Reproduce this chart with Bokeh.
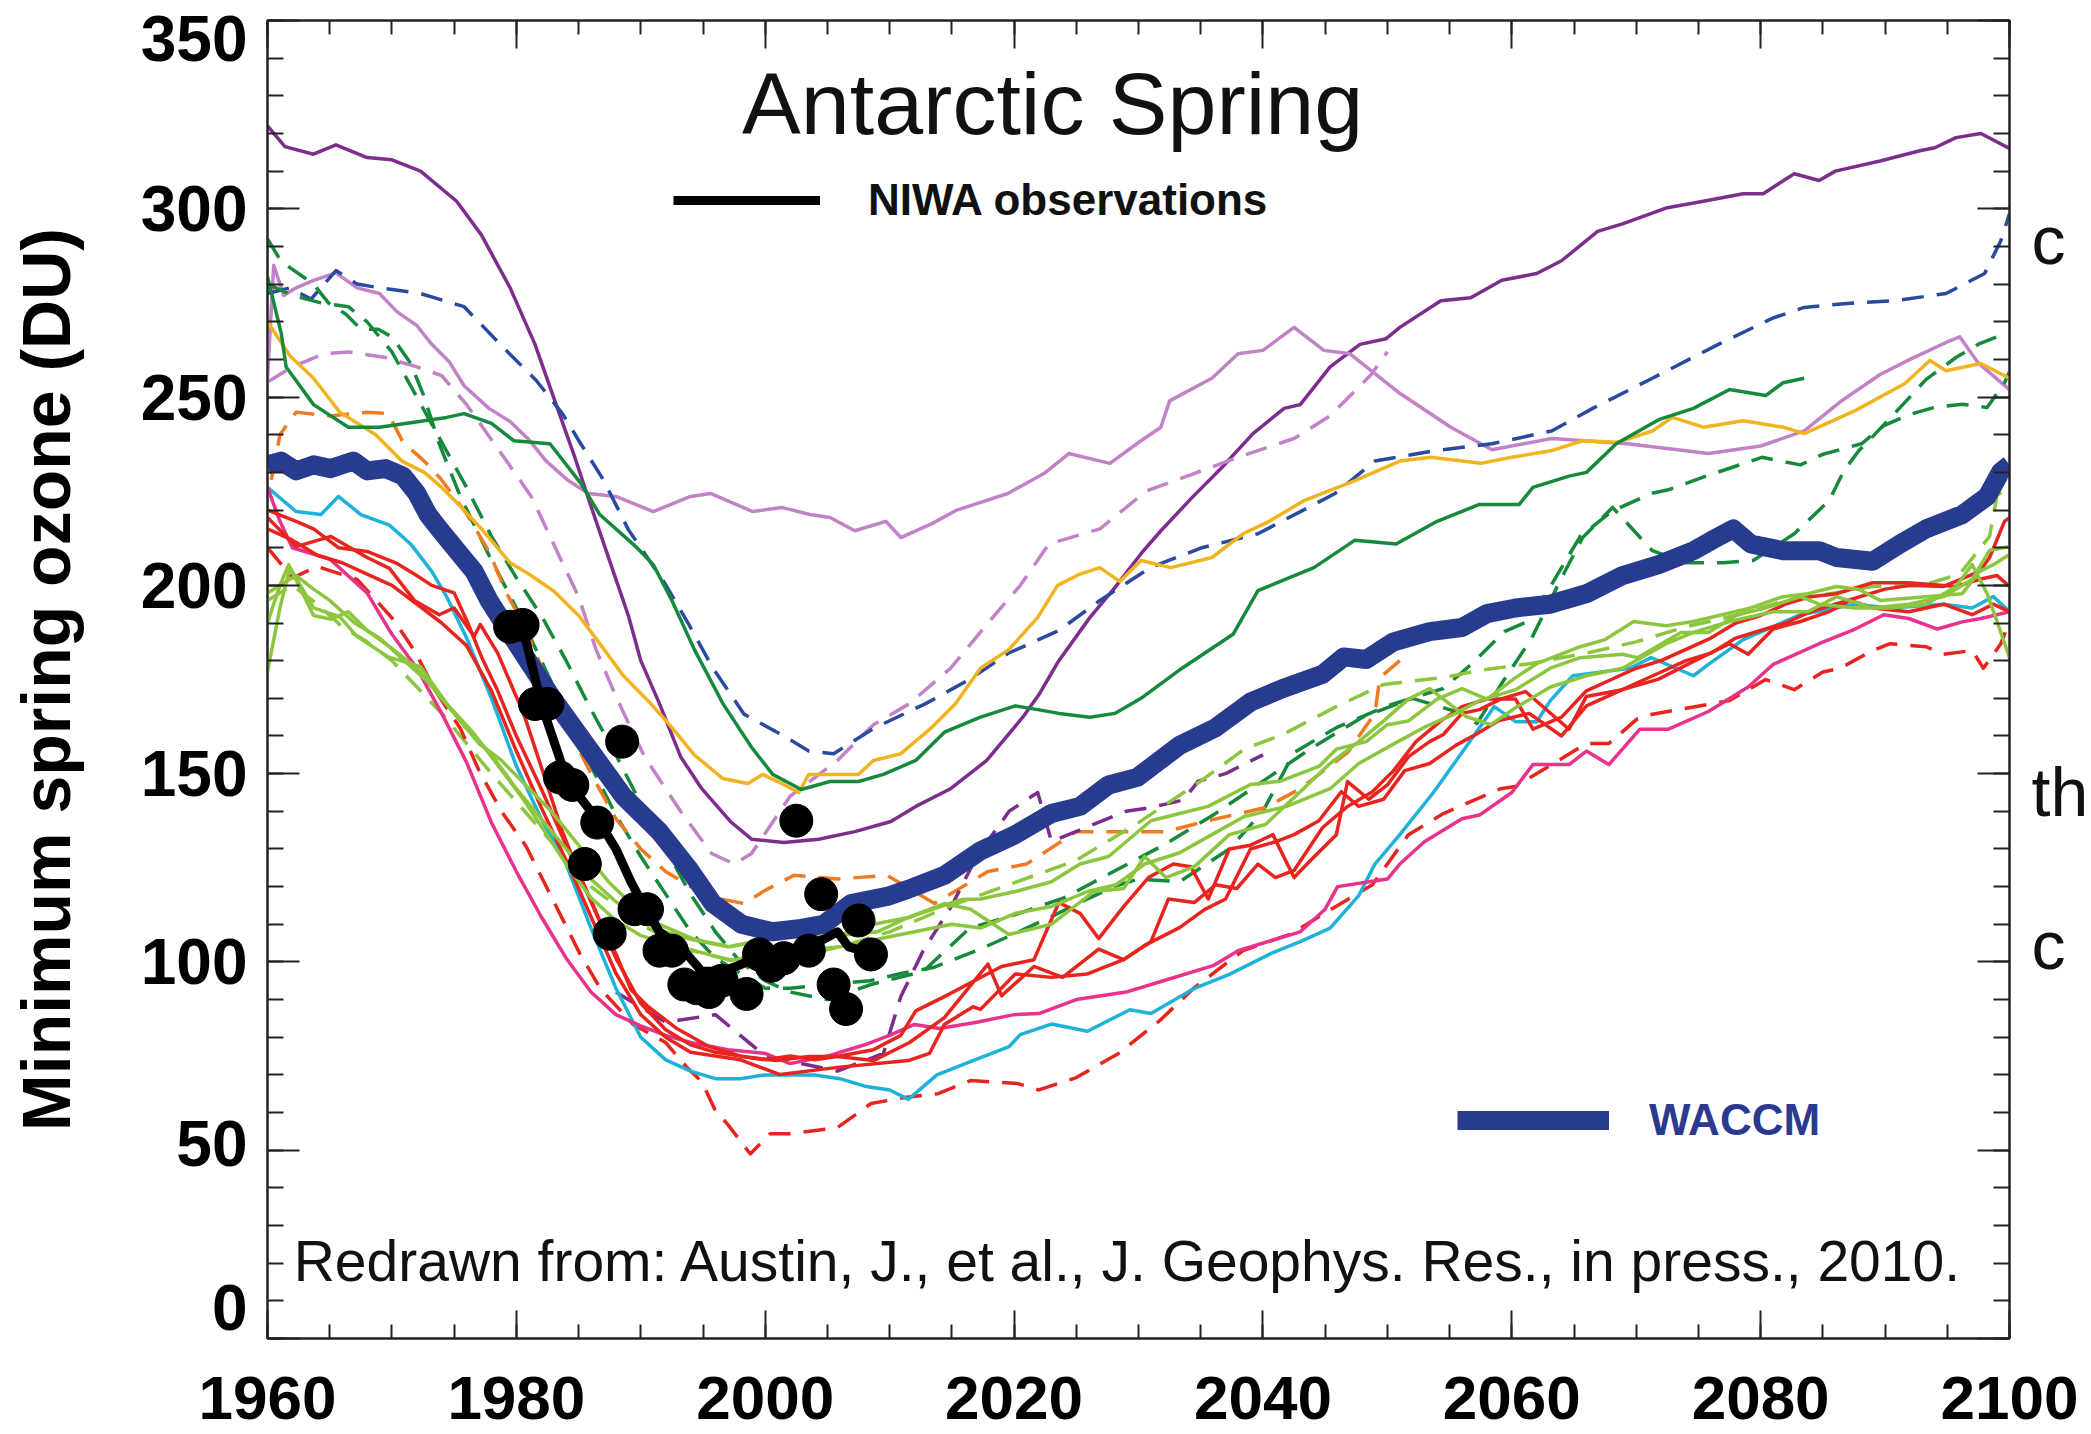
from bokeh.plotting import figure
from bokeh.models import (Range1d, LinearAxis, SingleIntervalTicker, FixedTicker, Label, Legend,
                          LegendItem, CustomJSTickFormatter)
from bokeh.embed import file_html
from bokeh.resources import INLINE

# ---------------- data (year, minimum spring ozone DU) ----------------
waccm = [(1960,232),(1961.1,233),(1962.3,230.4),(1963.7,232),(1965.1,231),(1966.9,233),(1968,230.4),
         (1969.5,231),(1970.9,229),(1972,224.4),(1972.9,218.8),(1973.8,215),(1975.2,209.3),(1976.6,203.7),
         (1977.8,196),(1979.4,187.7),(1982.8,170.5),(1985.7,157.2),(1988.6,144),(1991.5,134.6),(1993.8,125),
         (1995.8,115.5),(1998.1,110),(2000.6,108),(2002.9,108.9),(2004.7,110),(2006.9,115.5),(2009.8,117.4),
         (2011.5,119.3),(2014.4,123),(2017.3,129.5),(2020.1,133.8),(2023,139.4),(2025.3,141.3),(2027.6,147),
         (2029.9,149),(2033.3,157.5),(2036.2,162.2),(2039,169),(2041.6,172.6),(2044.8,176.4),(2046.5,181),
         (2048.3,180.3),(2050.5,185),(2053.4,187.7),(2056,188.8),(2058,192.5),(2060.3,194),(2063.1,195),
         (2066,197.8),(2068.9,202.6),(2071.8,205.5),(2074.6,209.2),(2076.1,212),(2077.8,215),(2079.2,211),
         (2081.8,209.2),(2084.7,209.2),(2086.1,207.4),(2089,206.4),(2091.2,211),(2093.3,215),(2096.2,218.8),
         (2098.2,223.6),(2099.3,230.2),(2100,232)]

obs_points = [(1979.5,189),(1980.5,189.5),(1981.5,168.5),(1982.5,168.5),(1983.5,149),(1984.5,147),
              (1985.5,126),(1986.5,137),(1987.5,107.5),(1988.5,158.5),(1989.5,114),(1990.5,114),
              (1991.5,103),(1992.5,103),(1993.5,94),(1994.5,93),(1995.5,92),(1996.5,95),(1998.5,91.5),
              (1999.5,102),(2000.5,99),(2001.5,101),(2002.5,137.5),(2003.5,103),(2004.5,118),(2005.5,94),
              (2006.5,87.5),(2007.5,111),(2008.5,102)]

obs_curve = [(1979.5,189),(1980.5,189),(1982,168.6),(1984.1,148),(1986.6,137.5),(1988,130),(1989.2,121.3),
             (1990.3,114.5),(1991.5,108),(1993.2,104),(1994.9,97.5),(1996.6,97.5),(1998.1,99.4),(1999.8,102.2),
             (2002.3,103.3),(2004.7,106),(2005.8,108),(2006.7,104),(2008.7,102.2)]

purple = [(1960,322),(1961.4,316.5),(1963.7,314.5),(1965.5,317),(1968,313.6),(1970,313),(1972.3,310),
          (1975.2,302),(1977.2,293),(1979.5,279),(1981.5,264),(1983.2,248),(1984.7,234),(1986.1,220),
          (1987.6,205.5),(1989,192),(1990,180),(1991.5,168.6),(1993.2,154.5),(1994.9,146),(1997.2,137.3),
          (1998.9,132.6),(2001.5,131.7),(2004.3,132.6),(2007.2,134.6),(2010.1,137.3),(2012.1,141.3),
          (2014.9,146),(2017.8,153.5),(2020.7,165),(2022,171),(2023.6,180),(2026.1,191.5),(2028.1,199.4),
          (2030.2,208.4),(2031.8,214.5),(2034.3,223.3),(2036.7,231.3),(2039.2,240.3),(2041.7,247),(2043,248),
          (2045.4,258),(2047.8,264),(2049.9,265.5),(2051,268.5),(2054.3,275.6),(2056.7,276.4),(2059.2,281),
          (2062,282.8),(2064,286.2),(2066.9,294),(2068.9,296),(2072.5,300.3),(2075.4,302),(2078.6,304),
          (2080.2,304),(2082.7,309.3),(2084.7,307.5),(2086,310),(2089.6,312.7),(2092.8,315.4),(2094,316.2),
          (2095.7,318.9),(2097.7,320),(2100,316)]

lavender = [(1960,255),(1960.5,285),(1961.3,277),(1962.3,279),(1963.7,281),(1965.5,283),(1967.2,279),
            (1969,277.5),(1970.4,272.7),(1972,269),(1973.2,264),(1974.6,259.4),(1975.8,253),(1977.8,247),
            (1979.5,243.5),(1981,238.7),(1982.4,233),(1984.1,228),(1985.8,224.4),(1988,223.6),(1991,219.6),
            (1994,223.6),(1995.6,224.4),(1999,219.6),(2001.3,220.7),(2003.6,218.8),(2005.2,218),(2007.2,214.5),
            (2009.7,217),(2010.9,212.7),(2013.4,216.4),(2015.4,220),(2019.5,224.4),(2022.4,229.7),(2024.4,235),
            (2027.7,232.4),(2030.2,238.4),(2031.8,242),(2032.5,249),(2035.9,255),(2038,261.5),(2040,262.4),
            (2042.5,268.5),(2044.9,262.4),(2047,261.5),(2051,251),(2055.1,242),(2058.4,236),(2063.2,239),
            (2069.3,237.6),(2075.8,235),(2080,237),(2083.5,241),(2086.5,249),(2089.6,256),(2092,260),
            (2094.9,264.5),(2096,266),(2097.5,259),(2100,252)]

lavender_dash = [(1960,254),(1962,258),(1964.5,261.5),(1966.5,262),(1969.5,260.5),(1972,258),(1974,255.7),
                 (1976,248),(1979,234),(1981.2,223.6),(1983.5,207.4),(1985,197),(1986.4,183),(1988,170.5),
                 (1990.3,154.5),(1993.2,140),(1995.7,128.8),(1997.5,126),(1998.9,128.8),(2002,144),
                 (2005.8,153.5),(2008.7,163),(2011.6,168.6),(2014.9,178),(2017.9,190),(2020.5,200),
                 (2022.8,211),(2026.9,215),(2030.6,225),(2034.3,229.5),(2038,234),(2042.5,239),(2045.4,245),
                 (2048.7,256),(2050,262)]

navy_dash = [(1960,277.5),(1961.8,279),(1963.5,276),(1965.5,283.6),(1967.2,280),(1969,279),(1972.3,277.5),
             (1975.8,274),(1979,263),(1981.6,254.4),(1983.7,245.6),(1985.1,238),(1987,228),(1989,214.8),
             (1991.9,200.7),(1993.8,190),(1995.8,178),(1998.3,165.8),(2001.5,160),(2003.5,156),(2005.5,155.3),
             (2008.7,162),(2012.9,168.6),(2016.4,175),(2019.5,181.9),(2023.6,188),(2026.9,196),(2031,204.8),
             (2035.1,210),(2039.6,213.7),(2045.8,224.4),(2049,233),(2053.9,235.8),(2058.4,237.6),(2063.2,241),
             (2066.5,247),(2071.3,255),(2076.6,264),(2081,271),(2083.5,273.8),(2086.7,274.8),(2090.8,275.6),
             (2094.9,277.5),(2098,282.8),(2099.3,291.5),(2100,298.7)]

green = [(1960,282),(1961.1,267),(1961.5,258),(1963.7,248),(1966.5,242),(1969,242),(1972.6,243.7),
         (1974.4,244.6),(1975.8,245.6),(1978,243),(1979.8,238.4),(1982.7,237.6),(1985.2,227),(1986.7,218.8),
         (1989.6,210.3),(1991,205.5),(1992.5,196),(1994.3,183),(1996.6,168.6),(1998.9,157),(2000.6,149.8),
         (2002.9,145.8),(2005.2,147.9),(2007.5,147.9),(2009.5,149.8),(2012.1,153.5),(2014.4,161),(2017.3,165),
         (2020.1,168),(2021.9,167),(2023.6,166),(2026.1,165),(2028.1,166),(2030.2,170),(2033.5,178),
         (2037.6,187),(2039.6,198.6),(2044.1,204.7),(2047.4,212),(2050.7,211),(2054,217),(2057.4,221.5),
         (2060.6,221.5),(2061.7,226),(2064.6,229),(2066,230),(2068.4,237.6),(2071.8,244),(2074.6,247),
         (2077.5,252),(2080.4,250.4),(2081.8,253.8),(2083.5,255)]

green_dash_a = [(1960,292),(1961.1,286),(1963.7,280),(1964.9,275),(1966.3,272),(1967.5,268),(1968.9,268),
                (1970,266),(1971.5,259),(1972.6,250),(1973.8,237.6),(1975.5,223.6),(1977.8,208),(1980,194),
                (1982,180),(1984,166),(1986,152),(1988,139),(1990,128),(1992,118),(1994,108),(1996,101),
                (1998,97),(2000,93),(2002,93),(2005,94),(2008.4,95),(2011,97),(2013.5,98.5),(2017,103),
                (2019.7,107),(2023,112),(2025.3,115.8),(2028,120),(2030,122),(2033.3,121.3),(2037.3,130),
                (2040,140),(2042.5,155.6),(2045.9,162.2),(2050,168),(2054.5,172.6),(2056.8,179.2),
                (2059.4,187.7),(2061.4,190.6),(2063.1,199.7),(2065.5,213),(2068,219.6),(2071.2,224.4),
                (2072.6,225.4),(2075.8,229.2),(2080.1,234),(2083.2,232),(2085,234.8),(2088.1,237.6),
                (2089.9,242.4),(2091.9,245.3),(2093.9,247.2),(2096.2,248.1),(2098.2,247.2),(2099.6,253.8),
                (2100,256.7)]

green_dash_b = [(1960,280),(1962,277),(1964.3,275),(1966.5,274),(1968,270),(1970,262),(1972,250),(1974,238),
                (1976,226),(1978,213),(1980,202),(1982,192),(1984,180),(1986,167),(1988,155),(1990,142),
                (1992,130),(1994,118),(1996,108),(1998,100),(2000,95),(2002,92),(2005,90),(2008.5,94),
                (2012.7,97.5),(2016.4,108.9),(2020.2,112.7),(2024,117),(2028,124),(2032,131),(2036,139),
                (2040,148),(2044,157),(2048,165),(2052,170),(2056,166),(2057.2,163.3),(2059.2,174),
                (2061.6,186),(2064,202),(2065.7,212.7),(2068.1,220.7),(2071.3,209.2),(2074,206),(2077,206),
                (2079.4,206.6),(2082.7,213.7),(2085.5,222.5),(2086.7,230.5),(2087.9,235.8),(2089,239.5),
                (2091.2,247.2),(2093.3,254.7),(2095.7,260.5),(2097.6,264.2),(2099,266),(2100,266)]

gold = [(1960,270),(1961.8,261),(1963.7,255),(1965.8,246),(1968.7,240),(1970.8,233),(1972.6,230),(1974,226),
        (1975.5,221),(1977.2,215),(1979.5,206),(1981,203),(1983,198.5),(1985,192),(1986.6,185),(1988.6,176),
        (1990.8,168.6),(1992.3,163),(1994.3,155),(1996.6,148.7),(1998.6,147.4),(1999.8,149.8),(2001,147.9),
        (2002.7,145),(2003.5,149.8),(2005.8,149.8),(2007.5,149.8),(2008.7,153.5),(2010.9,155.3),(2013.3,162),
        (2015.3,168.6),(2017.3,178),(2019.6,183),(2021.9,191.5),(2023.5,200),(2025.3,203),(2026.9,204.7),
        (2028.5,201),(2030.2,206.6),(2032.6,204.7),(2035.9,207.4),(2038.4,213.7),(2040.5,217),(2043.3,222.5),
        (2047.4,227.8),(2051,233),(2053.5,234),(2057.5,232.4),(2060,234),(2063.2,235.8),(2065.7,238.4),
        (2068.5,238),(2071.3,241),(2072.9,244.6),(2075.4,242),(2078.6,243.7),(2081.8,242),(2083.5,240.3),
        (2087.6,246.4),(2091.6,253.6),(2093.6,259.7),(2094.9,257),(2097.7,258.9),(2100,255)]

orange_dash = [(1960.3,228),(1961,240),(1962.3,246),(1965,245),(1968,246),(1969.7,245.6),(1970.9,238),
               (1972.6,233),(1974,228),(1976,219),(1977.8,209),(1979.2,198),(1980.5,190),(1982.2,177),
               (1984,163),(1986,150),(1988,138),(1990,130),(1992,124),(1994,120),(1996,117),(1998.3,115.5),
               (2000,119),(2002.3,123),(2005.8,122),(2009.8,123),(2013.6,115.5),(2017.9,124),(2021,126),
               (2025,134.6),(2028.8,134.6),(2032.2,134.6),(2035.6,137.5),(2040.2,141),(2043,146),
               (2046.8,155.6),(2049,166),(2049.4,175.5),(2051,180)]

cyan = [(1960,226),(1962.3,219.6),(1964.3,218.8),(1965.7,223.6),(1967.5,218.8),(1969.8,216),(1971.5,211),
        (1973.2,203.7),(1974.4,197),(1976,186),(1978,170),(1980,152),(1982,138),(1984,126),(1986,109),
        (1988,93),(1990,80),(1992,74),(1994,71),(1996,69),(1998,69),(2000,70),(2002,70),(2004,70),(2006,69),
        (2008,67),(2010,66),(2011.5,63.5),(2013.8,70),(2016.7,73.8),(2019.6,77.5),(2020.5,80.7),(2023,83.5),
        (2025.9,81.6),(2029.3,87.3),(2031,86.3),(2034.5,93),(2037.3,96.7),(2040.8,102.5),(2043,105.4),
        (2045.4,109),(2047.7,117.6),(2049,126),(2051,133.8),(2053.7,145),(2056,155.6),(2058.6,167.8),
        (2060.3,163.8),(2062,163.8),(2063.1,169.4),(2064.9,176),(2069.5,178),(2071.2,180.8),(2074.6,176),
        (2075.8,179),(2078.6,185.6),(2083.2,192.2),(2087.6,195),(2090.4,194),(2094.7,195),(2097,194),
        (2098.7,197),(2100,193)]

pink = [(1960,226),(1961,217),(1962,210),(1963,209),(1965,207),(1968,198),(1970,187),(1972,178),(1974,166),
        (1976,153),(1978,137),(1980,124),(1982,112),(1984,101),(1986,92),(1988,86),(1990,83),(1992,80.5),
        (1994,78.6),(1997,76.7),(2000,75.7),(2002,73),(2005,75),(2008,78),(2010,80.5),(2012,83.4),(2014,82.3),
        (2017,84),(2020,86),(2022,86.3),(2025,90),(2029,92),(2032,95),(2036,99),(2038,103),(2041,106),
        (2043,108),(2045,114),(2046,120),(2048,121),(2050,122),(2051,126),(2053,132),(2056,138),(2057.4,139),
        (2060,145),(2061.7,152.4),(2064.6,152.4),(2066,156),(2067.8,152.4),(2070.3,161.8),(2072.6,161.8),
        (2075.8,166.5),(2079,173),(2081,179),(2084.7,184.5),(2087.6,188.4),(2089.9,192.2),(2091.9,191.2),
        (2094.2,188.4),(2096.2,190.3),(2097.7,191.2),(2100,193)]

red_a = [(1960,220),(1962.3,217),(1963.7,215),(1965.7,210),(1968,209),(1970.3,206),(1971.8,203),(1973.2,200),
         (1975,198),(1976.1,190),(1977.2,181),(1978.5,172),(1980,160),(1982,146),(1984,131),(1986,116),
         (1988,101),(1990,89),(1992,82),(1994,78),(1996,76),(1998,75),(2000,74),(2002,75),(2004,74),(2006,75),
         (2008.7,76.7),(2010.9,80.5),(2012.1,87),(2014.4,90.8),(2016.7,94.8),(2019,98.8),(2021.6,100.6),
         (2023.6,115.8),(2025.3,112.9),(2026.8,106.2),(2028.8,114.7),(2030.8,122.4),(2032.8,126),
         (2034.2,125.3),(2035.6,116.7),(2037.3,130),(2039,131),(2040.8,133.8),(2042.5,122.4),(2043.9,127.2),
         (2045.9,133.8),(2046.8,147.9),(2048.5,143.2),(2050,147),(2051.7,154.5),(2053.4,158.5),(2054.5,160.4),
         (2056,166),(2057.4,167),(2059.1,169.8),(2061.1,171.8),(2064.6,161.8),(2066,170.5),(2068.9,172.3),
         (2071.8,175.1),(2074.6,179.8),(2077.5,184.5),(2079,181.7),(2081,188.4),(2083.2,190.4),(2085.5,193),
         (2087.2,196),(2089,194),(2091.9,193),(2094.7,195),(2097,192.2),(2098.7,195),(2100,193)]

red_b = [(1960,218),(1962.3,210.3),(1965.1,213),(1968,207.4),(1969.8,204.5),(1971.8,196),(1973.8,192.2),
         (1975,194),(1976.6,186.4),(1977.1,189.6),(1978.5,182),(1980.6,165.8),(1982.2,149.8),(1983.7,134.6),
         (1985.1,123),(1986.6,111.8),(1988,102.2),(1989.2,92.7),(1990.6,88.1),(1992.9,82.3),(1995.5,77.5),
         (1998.1,74.9),(2000.9,73.8),(2003.5,74.9),(2005.8,74.9),(2008.7,73.8),(2011.6,78.6),(2014.4,85.2),
         (2017.9,99.4),(2019,91),(2021.6,98.8),(2023.9,95.9),(2026.8,103.4),(2028.8,100.6),(2031,105.4),
         (2032.4,116.7),(2034.5,115.8),(2036.2,120.5),(2037.9,119.5),(2039.6,126),(2041,122.4),(2042.5,124.3),
         (2044.8,135.7),(2046.8,141.3),(2048.8,145.2),(2050.5,150.8),(2052.3,158.5),(2054.3,164),(2056,167.8),
         (2058,169.8),(2060.3,169.8),(2061.7,161.8),(2064,165),(2066,172),(2068,175),(2070,178),(2072,180),
         (2074,183),(2076,186),(2078,190),(2080,192),(2082,195),(2084,197),(2086.1,197.8),(2089,200.7),
         (2091.9,200.7),(2095.7,199.7),(2097.6,201.6),(2099,202.6),(2100,199.7)]

red_c = [(1960,215),(1962,212),(1964,208),(1966,206),(1968,203),(1970,200),(1972,195),(1974,190),(1976,184),
         (1978,172),(1980,156),(1982,141),(1984,127),(1986,112),(1988,97),(1990,86),(1992,80),(1994,76),
         (1996,75),(1998,74),(2001.2,70.1),(2005.8,72),(2011.5,73.8),(2013.2,75.7),(2014.4,83.4),(2016.7,88.1),
         (2017.3,87.4),(2020.1,96.8),(2023,95.9),(2025.9,96.8),(2028.8,100.6),(2030.5,104.4),(2033.3,109.1),
         (2035.3,113.9),(2037,116.7),(2039,130),(2041,131.9),(2042.5,133.8),(2044.5,137.5),(2046.3,145.2),
         (2047.7,141.3),(2049.7,143.2),(2051.4,150.8),(2053.4,152.7),(2055.5,157.5),(2057.1,160.4),
         (2058.9,164),(2061.4,166),(2064,160),(2066,168),(2068,171),(2070,174),(2072,177),(2074,180),
         (2076,182),(2078,186),(2080,188),(2082,190),(2084,193),(2086,195),(2088,197),(2090,199),(2092,200),
         (2094.7,199.7),(2097.6,203.7),(2098.4,207.4),(2099.6,217),(2100,218)]

red_dash = [(1960,210),(1962,202),(1964,205),(1967.2,201.6),(1970.1,191),(1971.8,182.7),(1973.5,172),
            (1975.5,162),(1977,150.8),(1978.8,140),(1980.8,130.6),(1982.8,117.4),(1985.1,102.2),(1986.8,92.7),
            (1989.4,83.4),(1992,78.6),(1993.7,72),(1994.9,68.2),(1996,60.5),(1997,56.8),(1998.8,49),
            (2000.4,54.4),(2002,54.4),(2005.8,56),(2008.5,62.4),(2011.2,64),(2013.9,65),(2016.5,68.5),
            (2020.3,67.7),(2022,66),(2025,69.3),(2028.4,75.7),(2031.7,84.4),(2034.5,93.2),(2038.4,103),
            (2042.3,107.5),(2045.5,114),(2048.8,120.5),(2051.7,133.8),(2054.5,139.4),(2059.1,146),
            (2060.3,146.6),(2066,158),(2067.8,158),(2070.1,164.6),(2071.2,165.7),(2077.5,169.4),(2080.4,175),
            (2082.7,172.3),(2085,177),(2086.4,178),(2089,182.7),(2090.4,184.5),(2093.3,183.7),(2094.7,181.7),
            (2097,182.7),(2097.9,178),(2099.3,184.5),(2100,190.4)]

lime_a = [(1960,190),(1961,200),(1961.7,205.5),(1963.7,192),(1965.1,191),(1966.5,193),(1968,188),(1969.5,184.5),
          (1972,178),(1974,170),(1976,162),(1978,155),(1980,146),(1982,138),(1984,130),(1986,122),(1988,116),
          (1990,111),(1992,108),(1994,106),(1997,104),(2000,106),(2003,107),(2006,107),(2009,108),
          (2011.5,111.8),(2015.8,116.6),(2017.3,116.7),(2020.1,118.7),(2023,121.3),(2025.3,126),(2027.6,128),
          (2031,137.5),(2033.3,139.4),(2035.6,141.3),(2039,147.1),(2041.4,148),(2044.5,151.9),(2045.9,156.5),
          (2048.3,158.5),(2050,163),(2051.7,164),(2054,169.8),(2056,172.6),(2058,169.8),(2060.3,175.5),
          (2062,179.2),(2065.5,183.7),(2067.5,185.6),(2069.8,190.4),(2072.4,189.3),(2074.6,190.4),
          (2076.9,192.2),(2079.2,194),(2081.8,197),(2083.8,197.8),(2086.1,199.7),(2087.9,198.9),(2089.6,196),
          (2093.3,197),(2096.2,197.8),(2097.6,203.7),(2098.7,205.5),(2100,208.2)]

lime_b = [(1960,177),(1961,194),(1961.8,204.7),(1963.7,194),(1965.8,191.7),(1967.2,186.4),(1969.7,181),
          (1972.3,178.4),(1974.4,168.6),(1976.6,160.6),(1978.8,151),(1980.6,143),(1982.4,134),(1984.2,125),
          (1986,117),(1988,111),(1990,107),(1993.2,104),(1997.2,100.4),(2000.1,102.2),(2003,103),(2006,104),
          (2009,106),(2012,108),(2015,110),(2017.3,109),(2020.1,112.9),(2023,114.7),(2025.9,118.7),
          (2028.2,120.5),(2030.5,126),(2033.3,129),(2035.9,133.8),(2038.5,138.6),(2041.9,141.3),(2045.4,146),
          (2047.7,152.7),(2050.3,157.5),(2052.9,162.2),(2055.5,166),(2057.4,169.4),(2060.3,172.3),(2063.1,178),
          (2065.5,180.8),(2068.9,181.7),(2070.1,180.8),(2073.6,187.5),(2075.8,187.5),(2078.1,192.2),
          (2080.4,194),(2083.2,197),(2084.7,195),(2087.6,194),(2090.4,194),(2093.3,195),(2095.7,199.7),
          (2097,205.5),(2098.2,197.8),(2099,190.4),(2100,180.8)]

lime_c = [(1960,198),(1962.3,202.6),(1963.7,199),(1965,196),(1967,190),(1969,186),(1971,180),(1973,174),
          (1975,166),(1977,158),(1978.8,153.5),(1980.8,146.8),(1982.8,140),(1985.1,130.6),(1987.4,121.3),
          (1989.2,115.5),(1991.5,110),(1994.3,106),(1997.2,104),(2000.1,106),(2002.9,107),(2005.8,107),
          (2008.7,110),(2011.5,111.8),(2014.4,115.5),(2016.5,114),(2019.6,107.3),(2023,110),(2026.4,118.7),
          (2028.8,119.5),(2030.5,128),(2032.2,122.4),(2034.5,125.3),(2037.3,133.8),(2040.2,136.5),(2043,145.2),
          (2045.4,152.7),(2047.7,158.5),(2049.7,164),(2051.7,169.8),(2053.4,172.6),(2056.3,165.2),
          (2058.3,163),(2060.3,167.5),(2063.1,173),(2066,176),(2068.9,178),(2072.4,184.5),(2074.6,187.5),
          (2077.5,190.4),(2081,193),(2083.8,193),(2086.1,197),(2089,194),(2091.9,195),(2094.7,197),
          (2097,201.6),(2098.4,209.3),(2100,210.3)]

lime_dash = [(1960,196),(1962,200),(1964,195),(1966,189),(1968,185),(1970,180),(1974,166),(1978,150),
             (1982,135),(1986,120),(1990,110),(1994,103),(1998,100),(2002,101),(2006,104),(2010,108),
             (2015,115),(2020,121),(2025,127),(2030,137),(2035,148),(2038.5,156.5),(2041.6,160.4),
             (2045.9,167.8),(2049.7,173.7),(2054.5,175.5),(2057.4,177.4),(2061.4,179.2),(2066,182),(2070,185),
             (2074,189),(2078,192),(2082,196),(2086,198),(2089,199.7),(2093,200),(2096,203),(2098.4,213),
             (2099,224),(2100,226)]

purple_dash = [(1988,92),(1992,84),(1996,86),(2000,75),(2005.8,71),(2009.5,75.7),(2010.9,90.8),(2012.7,103),
               (2015,115),(2017,128),(2019.6,140),(2021.9,145),(2023,132),(2026,136),(2029,140),(2031,141),
               (2033.6,143),(2034.8,148),(2037,150),(2040,155)]

y_ticks_major = 50
x_ticks_major = 20
# tick-label positions as printed in the original (end labels nudged inside the frame)
y_label_pos = [8.3, 51.7, 100, 150, 200, 250, 300, 345.1]
y_label_txt = ["0", "50", "100", "150", "200", "250", "300", "350"]
title_text = "Antarctic Spring"
source_text = "Redrawn from: Austin, J., et al., J. Geophys. Res., in press., 2010."
# letters of the slide text that shows at the right edge of the original
side_pos = [291.6, 145.0, 104.6]
side_txt = ["c", "th", "c"]

# ---------------- styling ----------------
PURPLE = "#7d2d8c"
LAVENDER = "#c282c8"
NAVY = "#2a4a9e"
GREEN = "#17893c"
GOLD = "#f1b320"
ORANGE = "#f07a22"
CYAN = "#1fb2d8"
PINK = "#e8328c"
RED = "#e8241f"
LIME = "#8cc63e"
WACCM_BLUE = "#283c8f"
DASH = "22 13"
FONT = "Liberation Sans"

def unzip(pairs):
    return [a for a, _ in pairs], [b for _, b in pairs]

p = figure(width=2091, height=1434, output_backend="svg", toolbar_location=None,
           x_range=Range1d(1960, 2100), y_range=Range1d(0, 350),
           x_axis_type=None, y_axis_type=None,
           min_border_left=267, min_border_right=81, min_border_top=20, min_border_bottom=96)
p.background_fill_color = "white"
p.border_fill_color = "white"
p.outline_line_color = "#222222"
p.outline_line_width = 2

def tick_axis(interval, minor, tick_in, minor_in):
    ax = LinearAxis(ticker=SingleIntervalTicker(interval=interval, num_minor_ticks=minor))
    ax.major_tick_in = tick_in
    ax.major_tick_out = 0
    ax.minor_tick_in = minor_in
    ax.minor_tick_out = 0
    ax.axis_line_color = "#222222"
    ax.axis_line_width = 2
    ax.major_tick_line_color = "#222222"
    ax.major_tick_line_width = 2
    ax.minor_tick_line_color = "#222222"
    ax.minor_tick_line_width = 2
    return ax

def blank(ax):
    ax.formatter = CustomJSTickFormatter(code="return ''")
    ax.major_label_standoff = 0
    return ax

def label_axis(positions, texts):
    ax = LinearAxis(ticker=FixedTicker(ticks=positions, minor_ticks=[]))
    ax.major_label_overrides = dict(zip(positions, texts))
    ax.axis_line_color = None
    ax.major_tick_line_color = None
    ax.minor_tick_line_color = None
    ax.major_tick_in = 0
    ax.major_tick_out = 0
    ax.minor_tick_in = 0
    ax.minor_tick_out = 0
    return ax

# bottom: ticks + year labels
xb = tick_axis(x_ticks_major, 4, 28, 14)
xb.major_label_text_font = FONT
xb.major_label_text_font_style = "bold"
xb.major_label_text_font_size = "62px"
xb.major_label_text_color = "black"
xb.major_label_standoff = 38
p.add_layout(xb, "below")

# left: ticks (next to frame), then labels + axis title
p.add_layout(blank(tick_axis(y_ticks_major, 5, 32, 16)), "left")
yl = label_axis(y_label_pos, y_label_txt)
yl.major_label_text_font = FONT
yl.major_label_text_font_style = "bold"
yl.major_label_text_font_size = "64px"
yl.major_label_text_color = "black"
yl.major_label_standoff = 20
yl.axis_label = "Minimum spring ozone (DU)"
yl.axis_label_text_font = FONT
yl.axis_label_text_font_style = "bold"
yl.axis_label_text_font_size = "68px"
yl.axis_label_text_color = "black"
yl.axis_label_standoff = 54
p.add_layout(yl, "left")

# top and right mirror ticks
p.add_layout(blank(tick_axis(x_ticks_major, 4, 28, 14)), "above")
p.add_layout(blank(tick_axis(y_ticks_major, 5, 32, 16)), "right")
yr = label_axis(side_pos, side_txt)
yr.major_label_text_font = FONT
yr.major_label_text_font_size = "68px"
yr.major_label_text_color = "#111111"
yr.major_label_standoff = 22
p.add_layout(yr, "right")

series = [
    (purple, PURPLE, "solid"), (lavender, LAVENDER, "solid"), (lavender_dash, LAVENDER, DASH),
    (navy_dash, NAVY, DASH), (green_dash_a, GREEN, DASH), (green_dash_b, GREEN, DASH),
    (orange_dash, ORANGE, DASH), (gold, GOLD, "solid"), (green, GREEN, "solid"),
    (purple_dash, PURPLE, DASH), (lime_dash, LIME, DASH), (red_dash, RED, DASH),
    (cyan, CYAN, "solid"), (pink, PINK, "solid"),
    (red_a, RED, "solid"), (red_b, RED, "solid"), (red_c, RED, "solid"),
    (lime_a, LIME, "solid"), (lime_b, LIME, "solid"), (lime_c, LIME, "solid"),
]
for pairs, col, dash in series:
    xs, ys = unzip(pairs)
    p.line(xs, ys, line_color=col, line_width=3.5, line_dash=dash, line_join="round")

wx, wy = unzip(waccm)
waccm_r = p.line(wx, wy, line_color=WACCM_BLUE, line_width=19, line_join="round")

ox, oy = unzip(obs_curve)
obs_r = p.line(ox, oy, line_color="black", line_width=9, line_join="round")
px_, py_ = unzip(obs_points)
p.scatter(px_, py_, marker="circle", size=33, fill_color="black", line_color="black")

def make_legend(label, rend, loc, gw, standoff, color):
    lg = Legend(items=[LegendItem(label=label, renderers=[rend])], location=loc)
    lg.glyph_width = gw
    lg.glyph_height = 46
    lg.label_height = 46
    lg.label_standoff = standoff
    lg.padding = 0
    lg.margin = 0
    lg.spacing = 0
    lg.border_line_color = None
    lg.background_fill_alpha = 0
    lg.label_text_font = FONT
    lg.label_text_font_style = "bold"
    lg.label_text_font_size = "44px"
    lg.label_text_color = color
    return lg

p.add_layout(make_legend("NIWA observations", obs_r, (406, 1113), 147, 48, "#111111"))
p.add_layout(make_legend("WACCM", waccm_r, (1190, 193), 152, 40, "#2b3990"))

p.add_layout(Label(x=2023.1, y=328, text=title_text, text_align="center", text_baseline="middle",
                   text_font=FONT, text_font_size="88px", text_color="#111111"))
p.add_layout(Label(x=1962.1, y=20.7, text=source_text, text_align="left", text_baseline="middle",
                   text_font=FONT, text_font_size="57px", text_color="#111111"))

open("out.html", "w").write(file_html(p, INLINE))
